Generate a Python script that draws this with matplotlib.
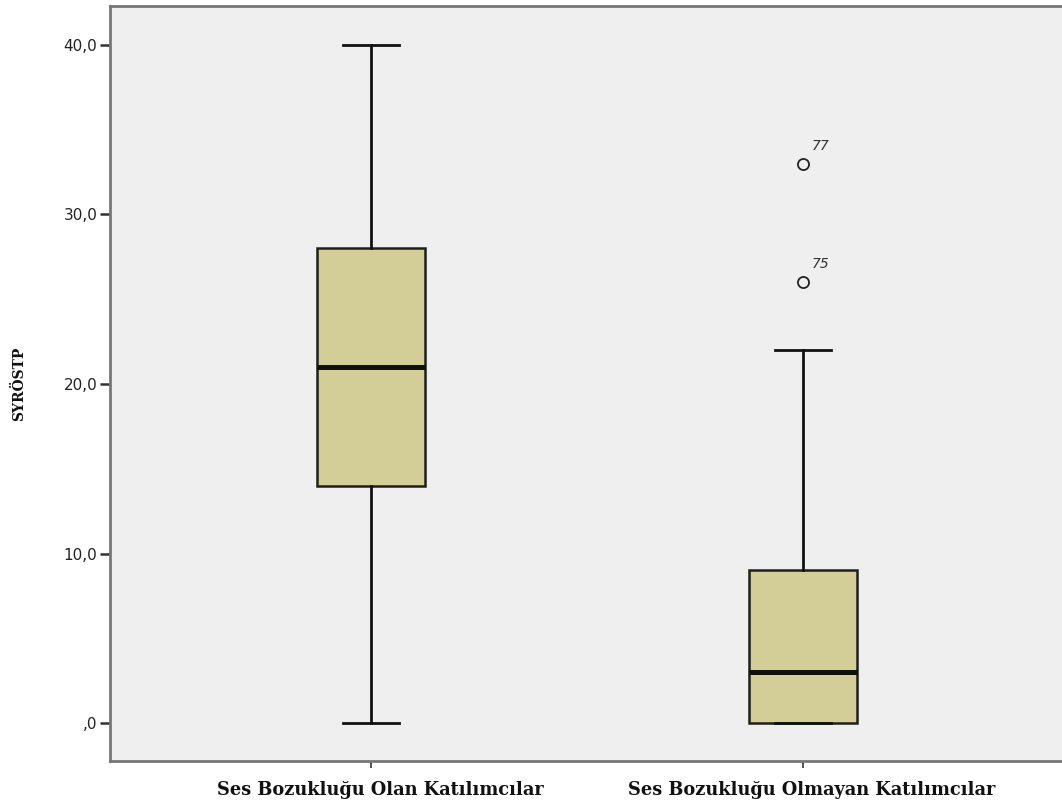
import matplotlib
matplotlib.use("Agg")
import matplotlib.pyplot as plt

# Group labels and five-number summaries of SYRÖSTP
groups = ["Ses Bozukluğu Olan Katılımcılar", "Ses Bozukluğu Olmayan Katılımcılar"]
whisker_low = [0.0, 0.0]
q1 = [14.0, 0.0]
median = [21.0, 3.0]
q3 = [28.0, 9.0]
whisker_high = [40.0, 22.0]
outlier_values = [[], [33.0, 26.0]]
outlier_ids = [[], ["77", "75"]]

ytick_values = [0, 10, 20, 30, 40]
ytick_labels = [",0", "10,0", "20,0", "30,0", "40,0"]

fig = plt.figure(figsize=(10.62, 8.10), dpi=100)
ax = fig.add_axes([110 / 1062, 1 - 761 / 810, (1064 - 110) / 1062, (761 - 6) / 810])
ax.set_facecolor("#efefef")

positions = [1, 2]
stats = []
for i, name in enumerate(groups):
    stats.append(dict(label=name, whislo=whisker_low[i], q1=q1[i], med=median[i],
                      q3=q3[i], whishi=whisker_high[i], fliers=outlier_values[i]))

ax.bxp(stats, positions=positions, widths=0.25, patch_artist=True, showfliers=True,
       capwidths=0.13,
       boxprops=dict(facecolor="#d3cd97", edgecolor="#1e1e1a", linewidth=1.8),
       medianprops=dict(color="#111008", linewidth=3.6, solid_capstyle="butt"),
       whiskerprops=dict(color="#111111", linewidth=2.0),
       capprops=dict(color="#111111", linewidth=2.0),
       flierprops=dict(marker="o", markersize=8, markerfacecolor="none",
                       markeredgecolor="#222222", markeredgewidth=1.3))

for pos, vals, ids in zip(positions, outlier_values, outlier_ids):
    for v, t in zip(vals, ids):
        ax.annotate(t, xy=(pos, v), xytext=(6, 8), textcoords="offset points",
                    fontsize=10, color="#333333", family="DejaVu Sans",
                    style="italic", ha="left", va="bottom")

ax.set_xlim(1 - 261 / 432, 2 + 261 / 432)
ax.set_ylim(-2.24, 42.3)

ax.set_yticks(ytick_values)
ax.set_yticklabels(ytick_labels, fontsize=11, color="#222222")
ax.set_xticks(positions)
ax.set_xticklabels([])
ax.tick_params(axis="y", length=7, width=1.8, color="#333333", pad=2)
ax.tick_params(axis="x", length=5, width=1.2, color="#333333")

# Category names, set slightly right of their tick marks
for pos, name in zip(positions, groups):
    ax.annotate(name, xy=(pos, 0), xycoords=ax.get_xaxis_transform(),
                xytext=(6.5, -21), textcoords="offset points",
                ha="center", va="center", fontsize=12.8, fontweight="bold",
                family="DejaVu Serif", color="#111111", annotation_clip=False)

for side in ["left", "top", "bottom"]:
    ax.spines[side].set_color("#777777")
    ax.spines[side].set_linewidth(2.0)
ax.spines["right"].set_visible(False)

ax.set_ylabel("SYRÖSTP", fontsize=10, fontweight="bold", family="DejaVu Serif",
              color="#111111", labelpad=27)

fig.savefig("out.png", dpi=100, facecolor="white")
